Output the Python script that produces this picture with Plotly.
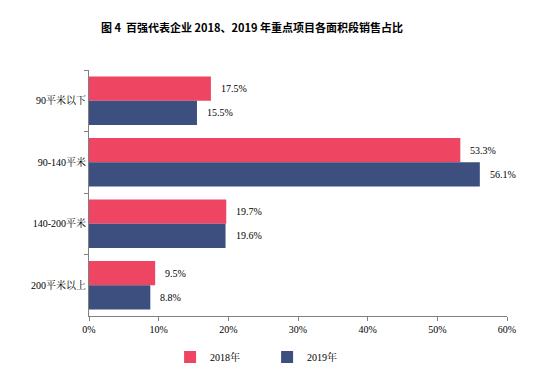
import plotly.graph_objects as go

categories = ["90平米以下", "90-140平米", "140-200平米", "200平米以上"]
share_2018 = [17.5, 53.3, 19.7, 9.5]
share_2019 = [15.5, 56.1, 19.6, 8.8]
series_names = ["2018年", "2019年"]
x_ticks = [0, 10, 20, 30, 40, 50, 60]
x_tick_labels = ["0%", "10%", "20%", "30%", "40%", "50%", "60%"]

RED = "#EE4563"
BLUE = "#3C4F7E"
SERIF = "Times New Roman, Liberation Serif, Noto Serif CJK SC, serif"

W, H = 552, 377
L, R, T, B = 89, 45, 70, 61
plot_w = W - L - R
plot_h = H - T - B

fig = go.Figure()
fig.add_trace(go.Bar(y=categories, x=share_2018, name=series_names[0], orientation="h",
                     marker=dict(color=RED, line=dict(width=0))))
fig.add_trace(go.Bar(y=categories, x=share_2019, name=series_names[1], orientation="h",
                     marker=dict(color=BLUE, line=dict(width=0))))

annotations = []
for cat, v18, v19 in zip(categories, share_2018, share_2019):
    annotations.append(dict(x=v18, y=cat, xref="x", yref="y", text=f"{v18:.1f}%",
                            showarrow=False, xanchor="left", xshift=8, yshift=12,
                            font=dict(family=SERIF, size=10, color="#000")))
    annotations.append(dict(x=v19, y=cat, xref="x", yref="y", text=f"{v19:.1f}%",
                            showarrow=False, xanchor="left", xshift=8, yshift=-12,
                            font=dict(family=SERIF, size=10, color="#000")))

annotations.append(dict(x=(252 - L) / plot_w, y=(H - B - 27) / plot_h, xref="paper", yref="paper",
                        text="<b>图 4  百强代表企业 2018、2019 年重点项目各面积段销售占比</b>",
                        showarrow=False, xanchor="center", yanchor="middle",
                        font=dict(family="Noto Sans CJK SC, sans-serif", size=11, color="#000")))

fig.update_layout(
    width=W, height=H,
    margin=dict(l=L, r=R, t=T, b=B, autoexpand=False),
    paper_bgcolor="white", plot_bgcolor="white",
    barmode="group", bargap=0.21, bargroupgap=0,
    font=dict(family=SERIF, size=10, color="#000"),
    showlegend=True,
    legend=dict(orientation="h", x=0.194, y=-0.167, xanchor="left", yanchor="middle",
                font=dict(family=SERIF, size=10, color="#000"), itemwidth=30,
                entrywidth=52, entrywidthmode="pixels",
                traceorder="normal", bgcolor="rgba(0,0,0,0)"),
    annotations=annotations,
)

fig.update_xaxes(range=[0, 60], tickvals=x_ticks, ticktext=x_tick_labels,
                 showgrid=False, zeroline=False, showline=True, linecolor="#808080", linewidth=1,
                 ticks="outside", ticklen=4, tickcolor="#808080",
                 tickfont=dict(family=SERIF, size=10, color="#000"))
fig.update_yaxes(autorange="reversed", showgrid=False, zeroline=False, showline=True,
                 linecolor="#808080", linewidth=1, ticks="outside", ticklen=4, tickcolor="#808080",
                 tickson="boundaries",
                 tickfont=dict(family=SERIF, size=10, color="#000"))

fig.write_html("out.html", config={"displayModeBar": False},
               post_script="document.body.style.margin='0';document.body.style.padding='0';")
